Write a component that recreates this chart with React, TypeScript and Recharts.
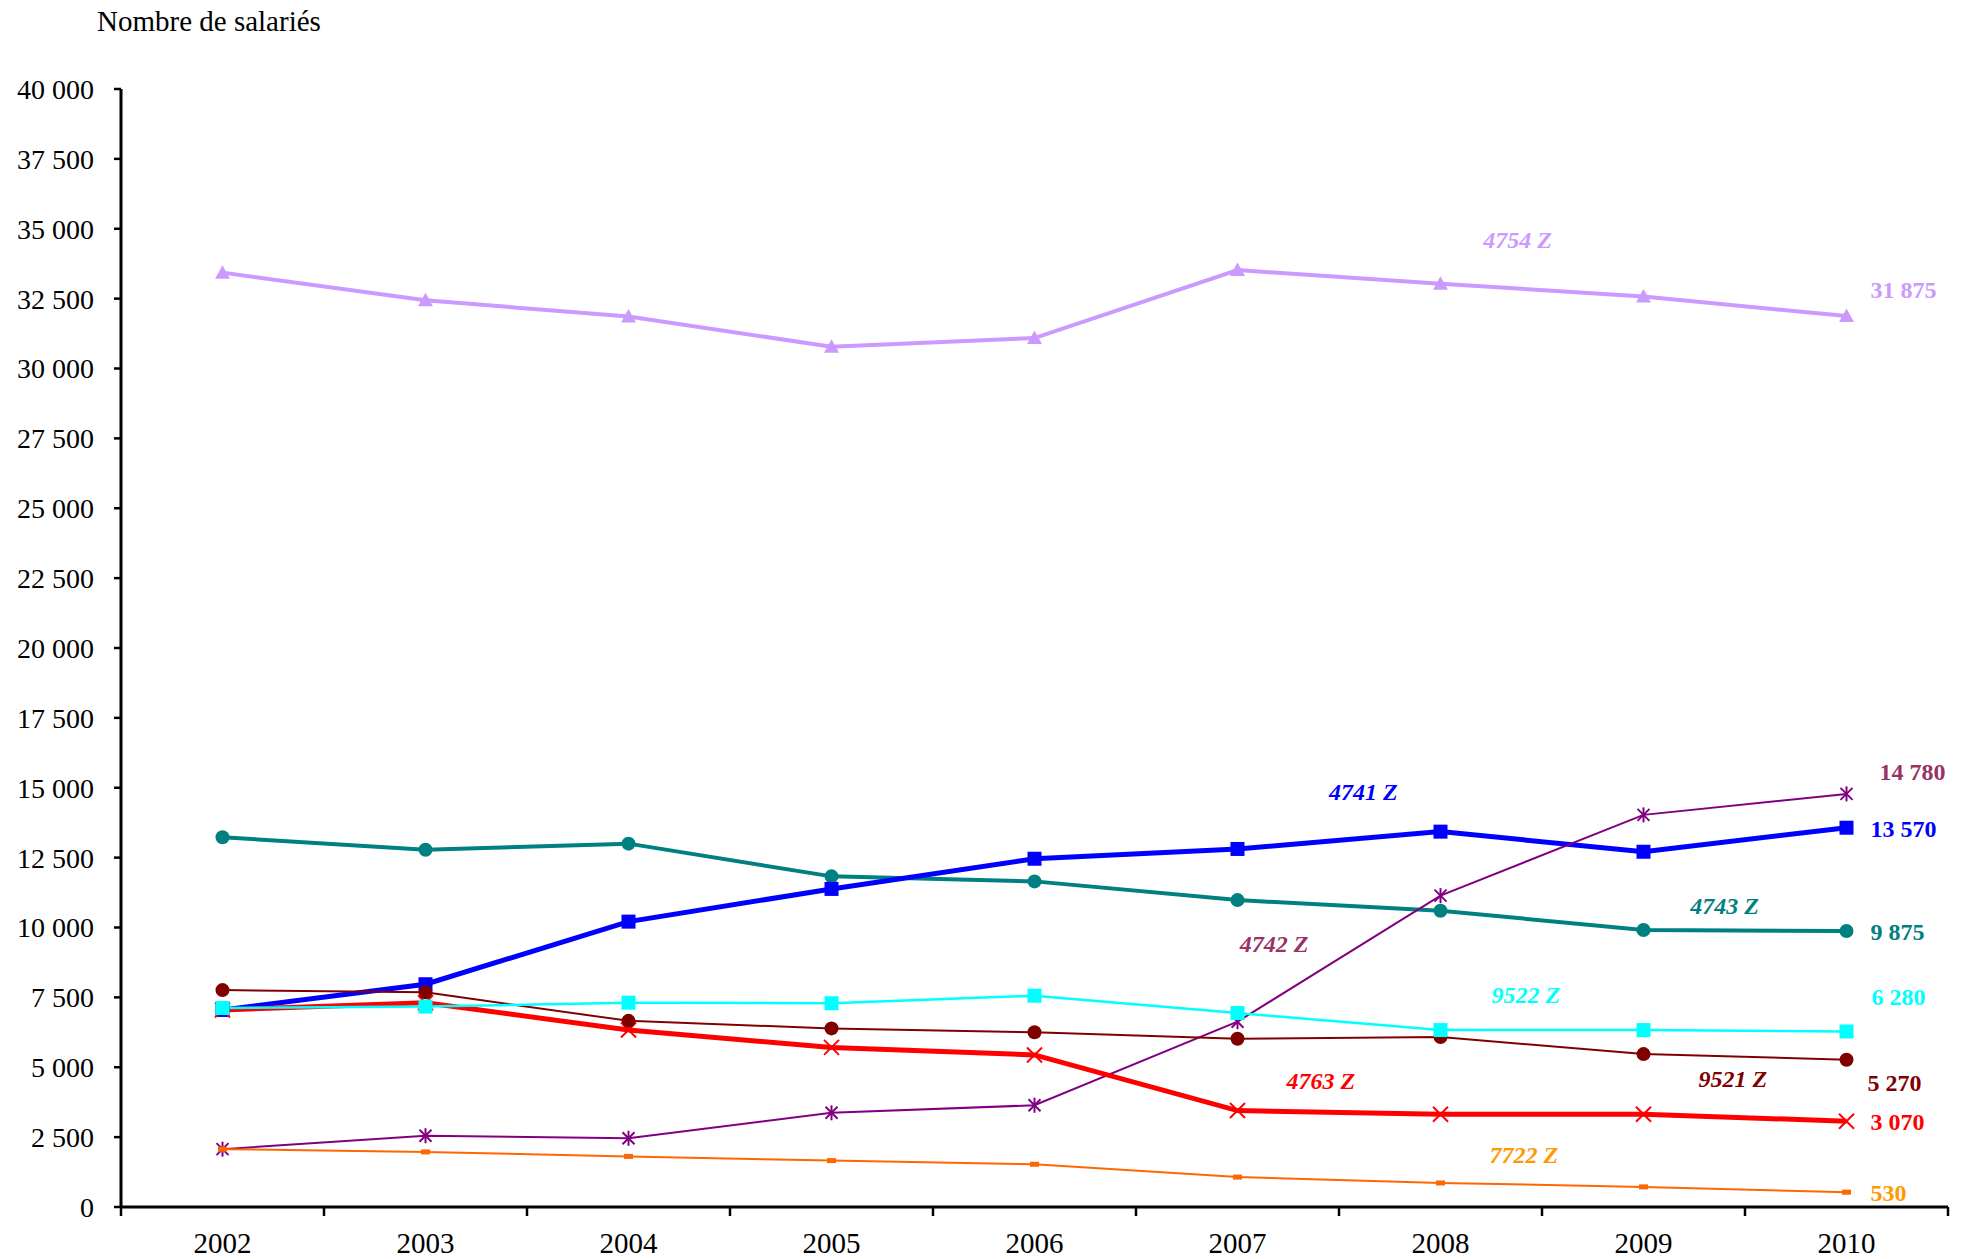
import React from 'react';
import { LineChart, Line, XAxis, YAxis, ReferenceDot } from 'recharts';

const years = [2002, 2003, 2004, 2005, 2006, 2007, 2008, 2009, 2010];
// tick marks sit between the years; each label is drawn half a step to the right
const yearBounds = [2001.5, 2002.5, 2003.5, 2004.5, 2005.5, 2006.5, 2007.5, 2008.5, 2009.5, 2010.5];
const yTicks = [0, 2500, 5000, 7500, 10000, 12500, 15000, 17500, 20000, 22500, 25000, 27500, 30000, 32500, 35000, 37500, 40000];

// nombre de salariés par code NAF
const s4754 = [33430, 32440, 31860, 30780, 31090, 33520, 33030, 32580, 31875];
const s4741 = [7050, 7970, 10210, 11380, 12460, 12810, 13430, 12710, 13570];
const s4743 = [13230, 12780, 13000, 11830, 11650, 10980, 10600, 9910, 9875];
const s4742 = [2070, 2550, 2460, 3370, 3640, 6630, 11140, 14030, 14780];
const s9522 = [7120, 7170, 7310, 7290, 7560, 6940, 6330, 6330, 6280];
const s9521 = [7760, 7680, 6660, 6390, 6250, 6020, 6080, 5470, 5270];
const s4763 = [7050, 7310, 6330, 5710, 5440, 3450, 3320, 3320, 3070];
const s7722 = [2070, 1970, 1810, 1660, 1530, 1070, 860, 720, 530];

const data = years.map((year, i) => ({
  year,
  s4754: s4754[i],
  s4741: s4741[i],
  s4743: s4743[i],
  s4742: s4742[i],
  s9522: s9522[i],
  s9521: s9521[i],
  s4763: s4763[i],
  s7722: s7722[i],
}));

type Shape = 'triangle' | 'square' | 'circle' | 'star' | 'cross' | 'dash';

type SeriesStyle = {
  key: string;
  name: string;
  values: number[];
  color: string;
  labelColor: string;
  width: number;
  shape: Shape;
  size: number;
  valueDx: number;
  valueDy: number;
  nameX: number;
  nameY: number;
};

// draw order, bottom to top
const series: SeriesStyle[] = [
  { key: 's4754', name: '4754 Z', values: s4754, color: '#CC99FF', labelColor: '#CC99FF', width: 4, shape: 'triangle', size: 15, valueDx: 24, valueDy: -26, nameX: 2008.38, nameY: 34620 },
  { key: 's4743', name: '4743 Z', values: s4743, color: '#008080', labelColor: '#008080', width: 4, shape: 'circle', size: 14, valueDx: 24, valueDy: 1, nameX: 2009.4, nameY: 10770 },
  { key: 's4741', name: '4741 Z', values: s4741, color: '#0000FF', labelColor: '#0000FF', width: 5, shape: 'square', size: 14, valueDx: 24, valueDy: 1, nameX: 2007.62, nameY: 14870 },
  { key: 's4742', name: '4742 Z', values: s4742, color: '#800080', labelColor: '#993366', width: 2, shape: 'star', size: 15, valueDx: 33, valueDy: -22, nameX: 2007.18, nameY: 9420 },
  { key: 's4763', name: '4763 Z', values: s4763, color: '#FF0000', labelColor: '#FF0000', width: 5, shape: 'cross', size: 15, valueDx: 24, valueDy: 0, nameX: 2007.41, nameY: 4520 },
  { key: 's9521', name: '9521 Z', values: s9521, color: '#800000', labelColor: '#800000', width: 2, shape: 'circle', size: 14, valueDx: 21, valueDy: 23, nameX: 2009.44, nameY: 4590 },
  { key: 's7722', name: '7722 Z', values: s7722, color: '#FF6600', labelColor: '#FF9900', width: 2, shape: 'dash', size: 9, valueDx: 24, valueDy: 0, nameX: 2008.41, nameY: 1875 },
  { key: 's9522', name: '9522 Z', values: s9522, color: '#00FFFF', labelColor: '#00FFFF', width: 2.5, shape: 'square', size: 14, valueDx: 25, valueDy: -35, nameX: 2008.42, nameY: 7600 },
];

const FONT = '"Liberation Serif", "Times New Roman", serif';

const fmt = (v: number) => String(v).replace(/\B(?=(\d{3})+(?!\d))/g, ' ');

function Marker({ cx, cy, shape, size, color }: { cx: number; cy: number; shape: Shape; size: number; color: string }) {
  const h = size / 2;
  if (shape === 'square') {
    return <rect x={cx - h} y={cy - h} width={size} height={size} fill={color} />;
  }
  if (shape === 'circle') {
    return <circle cx={cx} cy={cy} r={h} fill={color} />;
  }
  if (shape === 'triangle') {
    return <path d={`M${cx},${cy - h} L${cx + h},${cy + h * 0.8} L${cx - h},${cy + h * 0.8} Z`} fill={color} />;
  }
  if (shape === 'dash') {
    return <rect x={cx - h} y={cy - 2.5} width={size} height={5} fill={color} />;
  }
  if (shape === 'cross') {
    return (
      <g stroke={color} strokeWidth={2}>
        <line x1={cx - h} y1={cy - h} x2={cx + h} y2={cy + h} />
        <line x1={cx - h} y1={cy + h} x2={cx + h} y2={cy - h} />
      </g>
    );
  }
  // star: x plus vertical bar
  return (
    <g stroke={color} strokeWidth={2}>
      <line x1={cx - h * 0.8} y1={cy - h * 0.8} x2={cx + h * 0.8} y2={cy + h * 0.8} />
      <line x1={cx - h * 0.8} y1={cy + h * 0.8} x2={cx + h * 0.8} y2={cy - h * 0.8} />
      <line x1={cx} y1={cy - h} x2={cx} y2={cy + h} />
    </g>
  );
}

export default function App() {
  const last = years.length - 1;
  return (
    <div style={{ position: 'relative', width: 1970, height: 1259 }}>
      <style>{'body{margin:0;overflow:hidden}'}</style>
      <div
        style={{
          position: 'absolute',
          left: 97,
          top: 7,
          fontFamily: FONT,
          fontSize: 29,
          lineHeight: 1,
          color: '#000',
          whiteSpace: 'nowrap',
        }}
      >
        Nombre de salariés
      </div>
      <LineChart width={1970} height={1259} data={data} margin={{ top: 89, right: 22, bottom: 0, left: 0 }}>
        <XAxis
          type="number"
          dataKey="year"
          domain={[2001.5, 2010.5]}
          allowDataOverflow
          ticks={yearBounds}
          interval={0}
          tickFormatter={(v: number) => (v < 2010 ? String(v + 0.5) : '')}
          tickLine={{ stroke: '#000', strokeWidth: 2.5 }}
          tickSize={9}
          tickMargin={16}
          axisLine={{ stroke: '#000', strokeWidth: 3 }}
          tick={{ fill: '#000', fontSize: 29, fontFamily: FONT, dx: 101.5 }}
          height={52}
        />
        <YAxis
          type="number"
          domain={[0, 40000]}
          ticks={yTicks}
          interval={0}
          width={121}
          tickFormatter={fmt}
          tickSize={7}
          tickMargin={20}
          tickLine={{ stroke: '#000', strokeWidth: 2.5 }}
          axisLine={{ stroke: '#000', strokeWidth: 3 }}
          tick={{ fill: '#000', fontSize: 28, fontFamily: FONT }}
        />
        {series.map((s) => (
          <Line
            key={s.key}
            dataKey={s.key}
            type="linear"
            stroke={s.color}
            strokeWidth={s.width}
            isAnimationActive={false}
            dot={(p: any) => (
              <Marker key={`${s.key}-${p.index}`} cx={p.cx} cy={p.cy} shape={s.shape} size={s.size} color={s.color} />
            )}
            activeDot={false}
            label={(p: any) =>
              p.index === last ? (
                <text
                  key={`${s.key}-lbl`}
                  x={p.x + s.valueDx}
                  y={p.y + s.valueDy}
                  dy="0.35em"
                  fill={s.labelColor}
                  fontFamily={FONT}
                  fontWeight="bold"
                  fontSize={24}
                >
                  {fmt(s.values[last])}
                </text>
              ) : (
                <g key={`${s.key}-lbl-${p.index}`} />
              )
            }
          />
        ))}
        {series.map((s) => (
          <ReferenceDot
            key={`${s.key}-name`}
            x={s.nameX}
            y={s.nameY}
            r={0}
            fill="none"
            stroke="none"
            label={{
              value: s.name,
              position: 'center',
              fill: s.labelColor,
              fontFamily: FONT,
              fontWeight: 'bold',
              fontStyle: 'italic',
              fontSize: 24,
            }}
          />
        ))}
      </LineChart>
    </div>
  );
}
